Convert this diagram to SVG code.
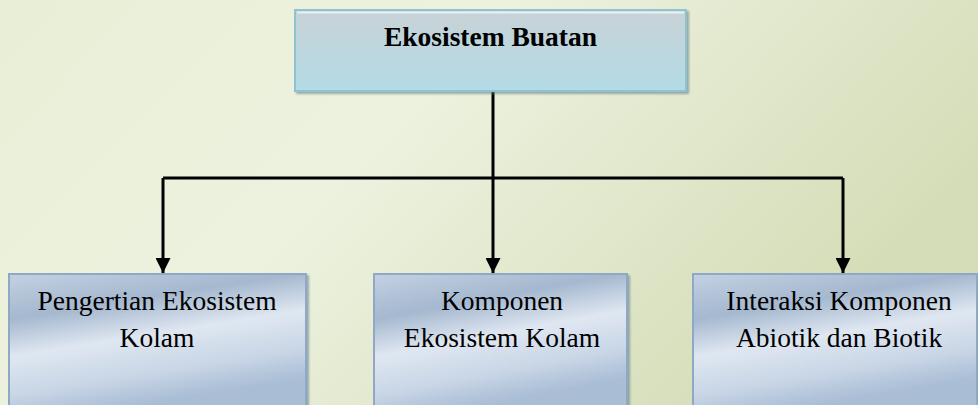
<svg xmlns="http://www.w3.org/2000/svg" width="978" height="405" viewBox="0 0 978 405">
<defs>
<linearGradient id="bg" x1="0" y1="0" x2="1" y2="0.4">
<stop offset="0" stop-color="#e9efd6"/>
<stop offset="0.45" stop-color="#edf2df"/>
<stop offset="1" stop-color="#d5ddb8"/>
</linearGradient>
<linearGradient id="topfill" x1="0" y1="0" x2="0" y2="1">
<stop offset="0" stop-color="#c8d2d6"/>
<stop offset="1" stop-color="#b3dbe6"/>
</linearGradient>
<linearGradient id="boxfill" x1="0" y1="0" x2="0.35" y2="1">
<stop offset="0" stop-color="#c3d1e2"/>
<stop offset="0.3" stop-color="#a5b8cf"/>
<stop offset="0.55" stop-color="#dfe7f1"/>
<stop offset="0.8" stop-color="#c9d6e6"/>
<stop offset="1" stop-color="#a9bdd5"/>
</linearGradient>
<marker id="arr" viewBox="0 0 10 10" refX="10" refY="5" markerWidth="5" markerHeight="5" orient="auto" markerUnits="strokeWidth">
<path d="M0,0 L10,5 L0,10 z" fill="#000"/>
</marker>
<filter id="sh" x="-5%" y="-5%" width="110%" height="115%">
<feDropShadow dx="2" dy="2" stdDeviation="1" flood-color="#5a7a88" flood-opacity="0.6"/>
</filter>
</defs>
<style>
.t{font-family:'Liberation Serif',serif;fill:#000;text-anchor:middle}
.b{font-size:27.5px;font-weight:bold}
.n{font-size:27.5px}
.c{stroke:#000;stroke-width:3;fill:none}
</style>
<rect width="978" height="405" fill="url(#bg)"/>
<g id="connectors">
<path class="c" d="M493,91 V178"/>
<path class="c" d="M163,178 H843"/>
<path class="c" d="M163,178 V273" marker-end="url(#arr)"/>
<path class="c" d="M493,178 V273" marker-end="url(#arr)"/>
<path class="c" d="M843,178 V273" marker-end="url(#arr)"/>
</g>
<g id="ekosistem-buatan">
<rect x="295" y="10" width="391" height="81" fill="url(#topfill)" stroke="#93c2cf" stroke-width="2" filter="url(#sh)"/>
<line x1="297" y1="12.5" x2="684" y2="12.5" stroke="#e6f2f5" stroke-width="2"/>
<text class="t b" x="490.5" y="46">Ekosistem Buatan</text>
</g>
<g id="pengertian">
<rect x="9" y="274" width="297" height="135" fill="url(#boxfill)" stroke="#8fa8c6" stroke-width="2" filter="url(#sh)"/>
<text class="t n" x="157" y="310">Pengertian Ekosistem</text>
<text class="t n" x="157" y="347">Kolam</text>
</g>
<g id="komponen">
<rect x="374" y="274" width="253" height="135" fill="url(#boxfill)" stroke="#8fa8c6" stroke-width="2" filter="url(#sh)"/>
<text class="t n" x="502" y="310">Komponen</text>
<text class="t n" x="502" y="347">Ekosistem Kolam</text>
</g>
<g id="interaksi">
<rect x="693" y="274" width="284" height="135" fill="url(#boxfill)" stroke="#8fa8c6" stroke-width="2" filter="url(#sh)"/>
<text class="t n" x="839" y="310">Interaksi Komponen</text>
<text class="t n" x="839" y="347">Abiotik dan Biotik</text>
</g>
</svg>
